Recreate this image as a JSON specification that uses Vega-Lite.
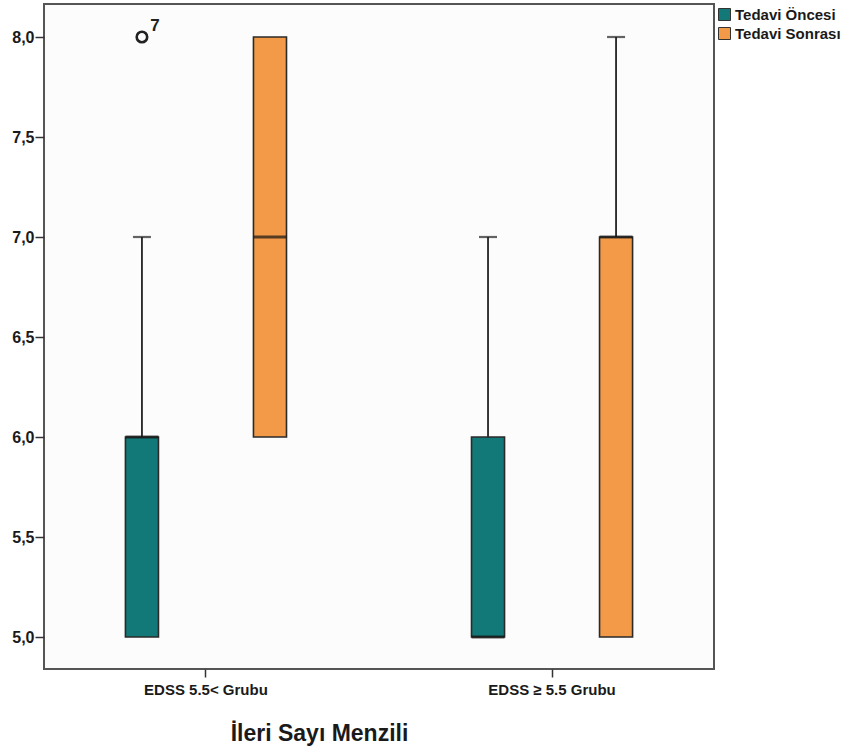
{
  "$schema": "https://vega.github.io/schema/vega-lite/v6.json",
  "width": 670,
  "height": 665,
  "autosize": {"type": "none"},
  "padding": {"left": 44, "top": 4, "right": 137, "bottom": 81},
  "background": "white",
  "config": {
    "font": "Liberation Sans",
    "view": {"stroke": "#555555", "strokeWidth": 2, "fill": "#fbfcfb"}
  },
  "datasets": {
    "boxes": [
      {"group": "EDSS 5.5< Grubu", "series": "Tedavi Öncesi", "q1": 5.0, "median": 6.0, "q3": 6.0},
      {"group": "EDSS 5.5< Grubu", "series": "Tedavi Sonrası", "q1": 6.0, "median": 7.0, "q3": 8.0},
      {"group": "EDSS ≥ 5.5 Grubu", "series": "Tedavi Öncesi", "q1": 5.0, "median": 5.0, "q3": 6.0},
      {"group": "EDSS ≥ 5.5 Grubu", "series": "Tedavi Sonrası", "q1": 5.0, "median": 7.0, "q3": 7.0}
    ],
    "whiskers": [
      {"group": "EDSS 5.5< Grubu", "series": "Tedavi Öncesi", "from": 6.0, "to": 7.0},
      {"group": "EDSS ≥ 5.5 Grubu", "series": "Tedavi Öncesi", "from": 6.0, "to": 7.0},
      {"group": "EDSS ≥ 5.5 Grubu", "series": "Tedavi Sonrası", "from": 7.0, "to": 8.0}
    ],
    "outliers": [
      {"group": "EDSS 5.5< Grubu", "series": "Tedavi Öncesi", "value": 8.0, "label": "7"}
    ]
  },
  "layer": [
    {
      "data": {"name": "whiskers"},
      "mark": {"type": "rule", "color": "#222222", "strokeWidth": 1.8},
      "encoding": {
        "x": {
          "field": "group", "type": "nominal",
          "scale": {"domain": ["EDSS 5.5< Grubu", "EDSS ≥ 5.5 Grubu"], "paddingInner": 0.064, "paddingOuter": 0},
          "axis": {
            "domain": false, "grid": false, "labelAngle": 0,
            "tickSize": 8, "tickColor": "#333333", "tickWidth": 1.5,
            "labelPadding": 5, "labelFontSize": 15, "labelFontWeight": "bold", "labelColor": "#1a1a1a",
            "title": "İleri Sayı Menzili", "titleFontSize": 23, "titleFontWeight": "bold",
            "titleColor": "#1a1a1a", "titleX": 275, "titleY": 64, "titleBaseline": "middle", "titleAlign": "center"
          }
        },
        "xOffset": {
          "field": "series", "type": "nominal",
          "scale": {"domain": ["Tedavi Öncesi", "Tedavi Sonrası"], "paddingInner": 0.742, "paddingOuter": 0.636}
        },
        "y": {
          "field": "from", "type": "quantitative",
          "scale": {"domain": [4.84, 8.165], "nice": false, "zero": false},
          "axis": {
            "values": [5, 5.5, 6, 6.5, 7, 7.5, 8],
            "labelExpr": "replace(format(datum.value, '.1f'), '.', ',')",
            "domain": false, "grid": false,
            "tickSize": 9, "tickColor": "#333333", "tickWidth": 1.5,
            "labelPadding": 1, "labelFontSize": 16, "labelFontWeight": "bold", "labelColor": "#1a1a1a",
            "title": null
          }
        },
        "y2": {"field": "to"}
      }
    },
    {
      "data": {"name": "whiskers"},
      "mark": {"type": "tick", "color": "#222222", "size": 18, "thickness": 2.2},
      "encoding": {
        "x": {"field": "group", "type": "nominal"},
        "xOffset": {"field": "series", "type": "nominal"},
        "y": {"field": "to", "type": "quantitative"}
      }
    },
    {
      "data": {"name": "boxes"},
      "mark": {"type": "bar", "stroke": "#2a2a2a", "strokeWidth": 1.6},
      "encoding": {
        "x": {"field": "group", "type": "nominal"},
        "xOffset": {"field": "series", "type": "nominal"},
        "y": {"field": "q1", "type": "quantitative"},
        "y2": {"field": "q3"},
        "color": {
          "field": "series", "type": "nominal",
          "scale": {"domain": ["Tedavi Öncesi", "Tedavi Sonrası"], "range": ["#127878", "#f29a48"]},
          "legend": {
            "title": null, "orient": "none", "legendX": 673, "legendY": 3,
            "symbolType": "square", "symbolSize": 144, "symbolStrokeColor": "#333333", "symbolStrokeWidth": 1,
            "labelFontSize": 15, "labelFontWeight": "bold", "labelColor": "#1a1a1a",
            "labelOffset": 3, "rowPadding": 2, "padding": 0
          }
        }
      }
    },
    {
      "data": {"name": "boxes"},
      "mark": {"type": "tick", "color": "#141414", "size": 33, "thickness": 3.2},
      "encoding": {
        "x": {"field": "group", "type": "nominal"},
        "xOffset": {"field": "series", "type": "nominal"},
        "y": {"field": "median", "type": "quantitative"}
      }
    },
    {
      "data": {"name": "outliers"},
      "mark": {"type": "point", "shape": "circle", "filled": false, "size": 110, "strokeWidth": 2.6, "color": "#222222", "opacity": 1},
      "encoding": {
        "x": {"field": "group", "type": "nominal"},
        "xOffset": {"field": "series", "type": "nominal"},
        "y": {"field": "value", "type": "quantitative"}
      }
    },
    {
      "data": {"name": "outliers"},
      "mark": {"type": "text", "dx": 13, "dy": -11, "fontSize": 17, "fontWeight": "bold", "color": "#222222"},
      "encoding": {
        "x": {"field": "group", "type": "nominal"},
        "xOffset": {"field": "series", "type": "nominal"},
        "y": {"field": "value", "type": "quantitative"},
        "text": {"field": "label"}
      }
    }
  ]
}
